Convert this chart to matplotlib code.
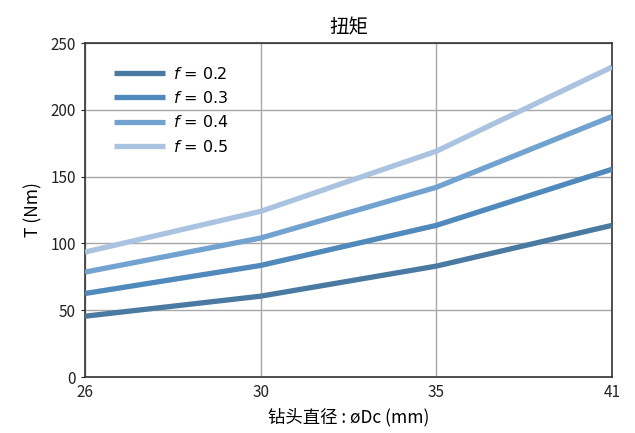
import matplotlib
matplotlib.use("Agg")
import matplotlib.pyplot as plt

plt.rcParams['font.family'] = ['Noto Sans CJK SC', 'DejaVu Sans']

# 数据
diameters = ["26", "30", "35", "41"]
f_labels = ["0.2", "0.3", "0.4", "0.5"]
torque_02 = [45.5, 60.5, 83, 113.5]
torque_03 = [62.5, 83.5, 113.5, 155.5]
torque_04 = [78.5, 104, 142, 195]
torque_05 = [93.5, 124, 169, 232]
series = [torque_02, torque_03, torque_04, torque_05]
colors = ["#4a79a2", "#5089bb", "#72a3d0", "#a9c3e0"]

fig = plt.figure(figsize=(6.35, 4.33), dpi=100)
ax = fig.add_axes([85 / 635, 1 - 377 / 433, 527 / 635, 334 / 433])

x = list(range(len(diameters)))
for vals, lab, c in zip(series, f_labels, colors):
    ax.plot(x, vals, color=c, linewidth=3.8, solid_capstyle="butt",
            label=f"$f$ = {lab}", zorder=3)

ax.set_xlim(0, len(diameters) - 1)
ax.set_ylim(0, 250)
ax.set_xticks(x)
ax.set_xticklabels(diameters)
ax.set_yticks([0, 50, 100, 150, 200, 250])
ax.grid(True, color="#a8a8a8", linewidth=1.0, zorder=0)
for s in ax.spines.values():
    s.set_color("#333333")
    s.set_linewidth(1.2)
ax.tick_params(axis="both", labelsize=11, colors="#222222", length=3, width=0.8)
ax.tick_params(axis="x", length=0, pad=5)

ax.set_title("扭矩", fontsize=14, pad=7)
ax.set_xlabel("钻头直径 : øDc (mm)", fontsize=12.5, labelpad=5)
ax.set_ylabel("T (Nm)", fontsize=12.5, labelpad=6)

leg = ax.legend(loc="upper left", frameon=False,
                handlelength=3.2, handletextpad=0.55, labelspacing=0.52,
                bbox_to_anchor=(0.027, 0.975),
                prop={"family": "DejaVu Sans", "size": 11.5})

fig.savefig("out.png", dpi=100, facecolor="white")
